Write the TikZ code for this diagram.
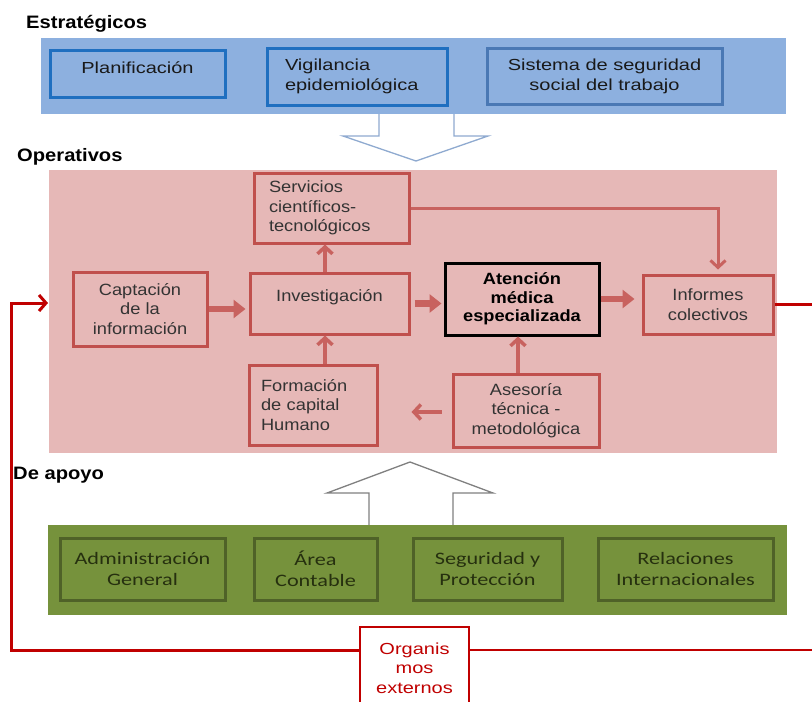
\documentclass[tikz,border=0pt]{standalone}
\usepackage{fontspec}
\setmainfont{Liberation Sans}
\newfontfamily\hdfont{Liberation Sans}[FakeStretch=1.12]
\newfontfamily\bfont{Liberation Sans}[FakeStretch=1.25]
\newfontfamily\pfont{Liberation Sans}[FakeStretch=1.12]
\newfontfamily\gfont{Carlito}[FakeStretch=1.27]
\usetikzlibrary{arrows.meta}
\definecolor{blueband}{HTML}{8DB0DF}
\definecolor{blueedge}{HTML}{1F6FC0}
\definecolor{blueedgeb}{HTML}{4A78B4}
\definecolor{pinkband}{HTML}{E6B8B7}
\definecolor{pinkedge}{HTML}{C0504D}
\definecolor{pinkarrow}{HTML}{C8625F}
\definecolor{greenband}{HTML}{76923C}
\definecolor{greenedge}{HTML}{4F6228}
\definecolor{greentext}{HTML}{26300F}
\definecolor{loopred}{HTML}{C00000}
\definecolor{hollowblue}{HTML}{8FAAD0}
\definecolor{pinktext}{HTML}{333333}
\begin{document}
\begin{tikzpicture}[x=1pt,y=-1pt,
  hdr/.style={anchor=west,inner sep=0,font=\hdfont\fontsize{18}{20}\selectfont\bfseries},
  band/.style={draw=none,inner sep=0,outer sep=0},
  bbox/.style={draw=blueedge,line width=3pt,fill=blueband,inner sep=0,align=center,
    font=\bfont\fontsize{16}{20}\selectfont,text=black!90},
  pbox/.style={draw=pinkedge,line width=3pt,fill=pinkband,inner sep=0,align=center,
    font=\pfont\fontsize{16.3}{19.5}\selectfont,text=pinktext},
  gbox/.style={draw=greenedge,line width=3pt,fill=greenband,inner sep=0,align=center,
    font=\gfont\fontsize{17.5}{21}\selectfont,text=greentext},
  thickarr/.style={draw=pinkarrow,line width=6.5pt,-{Triangle[length=12pt,width=18pt]}},
  thinarr/.style={draw=pinkarrow,line width=3.5pt,-{Straight Barb[length=7pt,width=15pt]}},
  hollow/.style={fill=white,line width=1.3pt,line join=miter},
  redline/.style={draw=loopred,line width=3pt}
]
\useasboundingbox (0,0) rectangle (812,702);
\fill[white] (0,0) rectangle (812,702);

% ---------- Estrategicos ----------
\node[hdr] (hstr) at (26,24) {Estratégicos};
\node[band,fill=blueband,minimum width=745,minimum height=76] (bband) at (413.5,76) {};
\node[bbox,minimum width=175,minimum height=47] (plan) at (137.5,73.5) {};
\node[font=\bfont\fontsize{16}{20}\selectfont,text=black!90,inner sep=0] (plant) at (137.5,68) {Planificación};
\node[bbox,minimum width=180,minimum height=57,text width=144,align=left] (vig) at (357,76.5) {Vigilancia\\epidemiológica};
\node[bbox,draw=blueedgeb,minimum width=235,minimum height=56] (sis) at (604.5,76) {Sistema de seguridad\\social del trabajo};

% hollow arrow down
\path[hollow,draw=hollowblue] (379,114) -- (379,136) -- (343,136) -- (416,161) -- (488,136) -- (454,136) -- (454,114);

% ---------- Operativos ----------
\node[hdr] (hop) at (17,157) {Operativos};
\node[band,fill=pinkband,minimum width=728,minimum height=283] (pband) at (413,311.5) {};

\node[pbox,minimum width=155,minimum height=70,text width=125,align=left] (ser) at (331.5,208) {Servicios\\científicos-\\tecnológicos};
\node[pbox,minimum width=134,minimum height=74] (cap) at (140,309) {Captación\\de la\\información};
\node[pbox,minimum width=159,minimum height=61] (inv) at (329.5,303.5) {};
\node[font=\pfont\fontsize{16.3}{19.5}\selectfont,text=pinktext,inner sep=0] (invt) at (329.5,297) {Investigación};
\node[pbox,draw=black,fill=pinkband,minimum width=154,minimum height=72,font=\pfont\fontsize{16.3}{18.5}\selectfont\bfseries,text=black] (att) at (522,299) {Atención\\médica\\especializada};
\node[pbox,minimum width=130,minimum height=59] (inf) at (708,304.5) {Informes\\colectivos};
\node[pbox,minimum width=128,minimum height=80,text width=104,align=left] (form) at (313,405) {Formación\\de capital\\Humano};
\node[pbox,minimum width=146,minimum height=73] (ase) at (526,410.5) {Asesoría\\técnica -\\metodológica};

% arrows inside operativos
\draw[thickarr,shorten >=3pt] (cap.east) -- (cap.east -| inv.west);
\draw[thickarr,shorten <=4pt,shorten >=2pt] (inv.east) -- (inv.east -| att.west);
\draw[thickarr,shorten >=7pt] (att.east) -- (att.east -| inf.west);
\draw[thinarr] ([xshift=-4.5pt]inv.north) -- ([xshift=-4.5pt]inv.north |- ser.south);
\draw[thinarr] ([xshift=12pt]form.north) -- ([xshift=12pt]form.north |- inv.south);
\draw[thinarr] ([xshift=-8pt]ase.north) -- ([xshift=-8pt]ase.north |- att.south);
\draw[thinarr,shorten <=10pt,shorten >=33pt] ([yshift=-1.5pt]ase.west) -- ([yshift=-1.5pt]ase.west -| form.east);
\draw[thinarr,line width=3pt,shorten >=4pt] (ser.east) -| ([xshift=10pt]inf.north);

% ---------- De apoyo ----------
\node[hdr] (hap) at (13,475) {De apoyo};
\path[hollow,draw=black!50] (369,525) -- (369,493) -- (327,493) -- (410,462) -- (493,493) -- (453,493) -- (453,525);
\node[band,fill=greenband,minimum width=739,minimum height=90] (gband) at (417.5,570) {};
\node[gbox,minimum width=165,minimum height=62] (adm) at (142.5,569) {Administración\\General};
\node[gbox,minimum width=123,minimum height=62] (area) at (315.5,569) {Área\\Contable};
\node[gbox,minimum width=149,minimum height=62] (seg) at (487.5,569) {Seguridad y\\Protección};
\node[gbox,minimum width=175,minimum height=62] (rel) at (685.5,569) {Relaciones\\Internacionales};

% ---------- external loop ----------
\node[draw=loopred,line width=2.5pt,fill=white,minimum width=109,minimum height=82,inner sep=0,align=center,
  font=\bfont\fontsize{16}{19.5}\selectfont,text=loopred] (org) at (414.5,668) {Organis\\mos\\externos};
\coordinate (rightA) at (812,304.5);
\coordinate (rightB) at (812,650);
\coordinate (leftB) at (11,650);
\coordinate (entry) at (48,303);
\draw[redline] (inf.east) -- (rightA);
\draw[redline,line width=2.5pt] (org.east |- rightB) -- (rightB);
\draw[redline,line join=miter,-{Straight Barb[length=7pt,width=16pt]}] (org.west |- leftB) -- (leftB) -- (leftB |- entry) -- (entry);
\end{tikzpicture}
\end{document}
